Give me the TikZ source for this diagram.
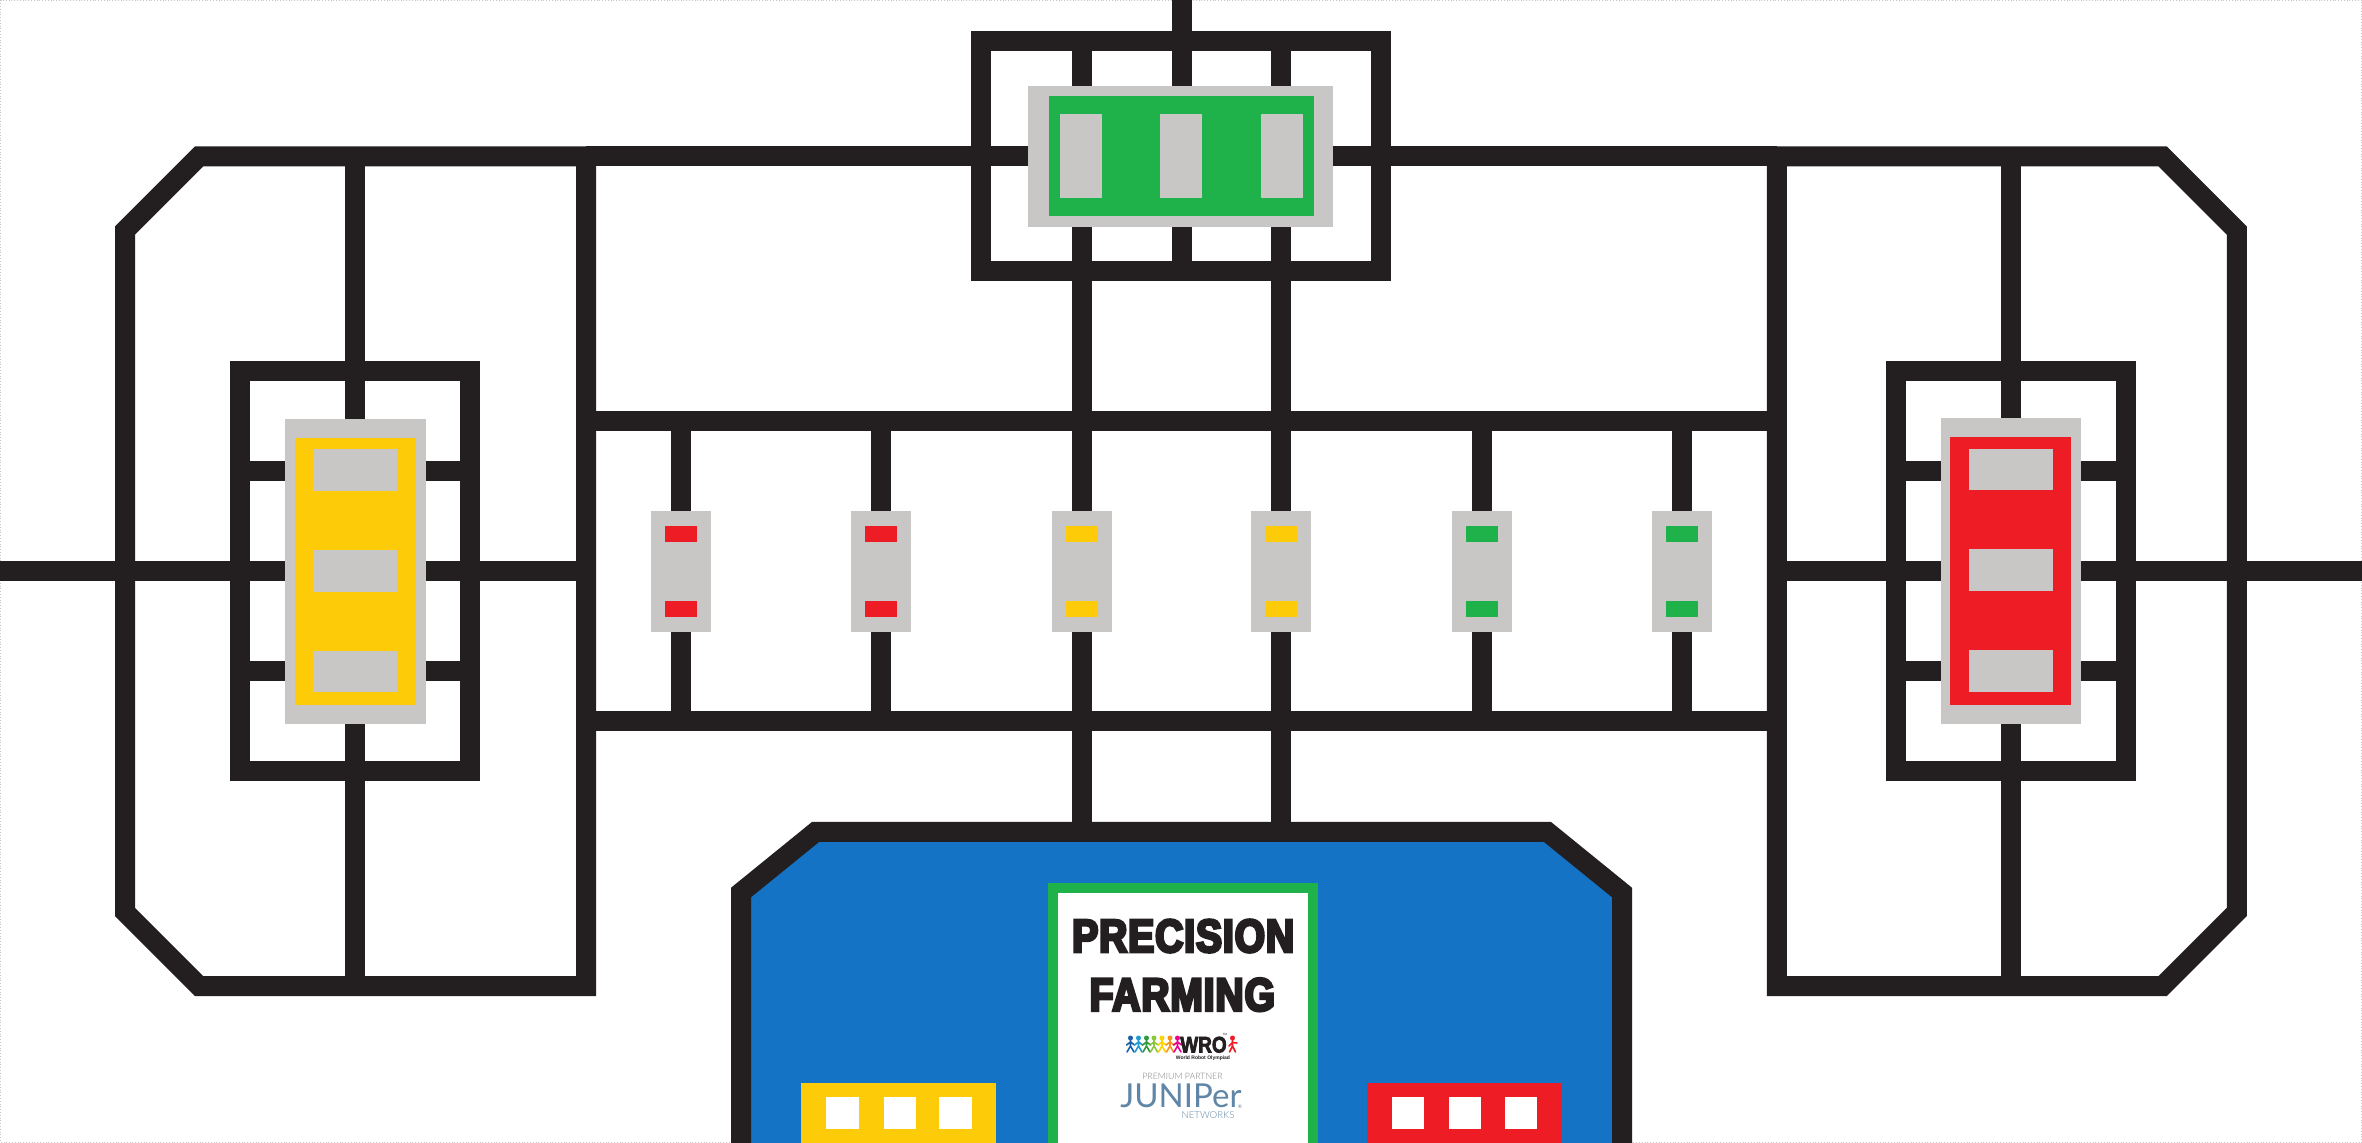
\documentclass[tikz,border=0pt]{standalone}
\usepackage{fontspec}
\setmainfont{Liberation Sans}
\newfontfamily\titlefont[FakeBold=6, FakeStretch=0.84, LetterSpace=2]{Liberation Sans Bold}
\newfontfamily\wrofont[FakeBold=3, FakeStretch=0.84]{Liberation Sans Bold}
\newfontfamily\logofont{Lato Light}
\newfontfamily\juniperfont{Lato}
\definecolor{linecol}{HTML}{231F20}
\definecolor{matgrey}{HTML}{C8C7C5}
\definecolor{matgreen}{HTML}{1FB14A}
\definecolor{matyellow}{HTML}{FDCB08}
\definecolor{matred}{HTML}{EE1C25}
\definecolor{matblue}{HTML}{1473C4}
\definecolor{junicol}{HTML}{5F86A6}
\definecolor{pblue}{HTML}{1B5FA8}
\definecolor{psky}{HTML}{1E9AD6}
\definecolor{pgreen}{HTML}{2E9A3C}
\definecolor{plime}{HTML}{8DC63F}
\definecolor{pyellow}{HTML}{FFD400}
\definecolor{porange}{HTML}{F7941D}
\definecolor{pmagenta}{HTML}{EC008C}
\tikzset{
    track/.style={draw=linecol, line width=10pt, line join=miter},
    greybox/.style={fill=matgrey},
    people/.style={line width=.8pt, line cap=round},
    titletext/.style={inner sep=0pt, anchor=base, text=linecol, font=\titlefont\fontsize{23.2}{24}\selectfont},
    logotext/.style={inner sep=0pt, anchor=base, text=junicol}
}
\begin{document}
\begin{tikzpicture}[x=.5pt, y=-.5pt]
    \useasboundingbox (0,0) rectangle (2362,1143);
    % base
    \fill[white] (0,0) rectangle (2362,1143);
    \draw[matgrey, line width=.4pt, densely dotted] (.5,.5) rectangle (2361.5,1142.5);
    % start area
    \fill[matblue] (741,1143) -- (741,892.5) -- (815.5,832) -- (1547.5,832) -- (1622,892.5) -- (1622,1143) -- cycle;
    \draw[track] (741,1143) -- (741,892.5) -- (815.5,832) -- (1547.5,832) -- (1622,892.5) -- (1622,1143);
    % outer lines
    \draw[track] (586,156.5) -- (199,156.5) -- (125,230.5) -- (125,912) -- (199,986) -- (586,986) -- cycle;
    \draw[track] (1776.8,156.5) -- (2162.8,156.5) -- (2236.8,230.5) -- (2236.8,912) -- (2162.8,986) -- (1776.8,986) -- cycle;
    \draw[track] (586,156.5) -- (1776.8,156.5);
    \draw[track] (586,421) -- (1776.8,421);
    \draw[track] (586,721) -- (1776.8,721);
    \draw[track] (0,571.3) -- (586,571.3);
    \draw[track] (1776.8,571.3) -- (2362,571.3);
    % square frames
    \draw[track] (981,41) rectangle (1381,271);
    \draw[track] (240,371.3) rectangle (470,771.3);
    \draw[track] (1895.8,371.3) rectangle (2125.6,771.3);
    \draw[track] (1181.5,0) -- (1181.5,271);
    \foreach \x in {1082,1281} \draw[track] (\x,41) -- (\x,832);
    \foreach \x in {355,2010.5} {
        \draw[track] (\x,156.5) -- (\x,986);
    }
    \foreach \y in {471,671} {
        \draw[track] (240,\y) -- (470,\y);
        \draw[track] (1895.8,\y) -- (2125.6,\y);
    }
    \foreach \x in {680.7,881,1481.5,1681.5} \draw[track] (\x,421) -- (\x,721);
    % green bay
    \fill[greybox] (1028.3,86) rectangle (1333.3,226.7);
    \fill[matgreen] (1049,95.7) rectangle (1314,216.3);
    \foreach \x in {1060,1160,1261} \fill[greybox] (\x,113.7) rectangle ++(42,84);
    % yellow bay
    \fill[greybox] (285,418.7) rectangle (425.8,723.9);
    \fill[matyellow] (294.6,438) rectangle (415.6,704.6);
    \foreach \y in {449.3,550,650.6} \fill[greybox] (313,\y) rectangle ++(84,41.7);
    % red bay
    \fill[greybox] (1940.5,418) rectangle (2081,723.9);
    \fill[matred] (1949.8,437.3) rectangle (2070.8,704.6);
    \foreach \y in {448.7,549.3,650} \fill[greybox] (1968.6,\y) rectangle ++(84.3,41.7);
    % small boxes
    \foreach \x/\col in {680.7/matred, 881/matred, 1082/matyellow, 1281/matyellow, 1481.5/matgreen, 1681.5/matgreen} {
        \fill[greybox] (\x-30,511.3) rectangle (\x+30,631.7);
        \fill[\col] (\x-16,526.3) rectangle (\x+16,542);
        \fill[\col] (\x-16,601) rectangle (\x+16,616.7);
    }
    % base pads
    \fill[matyellow] (801,1083) rectangle (996,1143);
    \foreach \x in {826.3,883.7,939.3} \fill[white] (\x,1097) rectangle ++(32.2,32.2);
    \fill[matred] (1367,1083) rectangle (1561.7,1143);
    \foreach \x in {1391.7,1448.7,1505.3} \fill[white] (\x,1097) rectangle ++(32,32);
    % sign
    \fill[matgreen] (1048,883) rectangle (1317.7,1143);
    \fill[white] (1058,893) rectangle (1307.7,1143);
    \node[titletext] (title1) at (1183.2,952) {PRECISION};
    \node[titletext] (title2) at (1182.3,1010.7) {FARMING};
    % wro logo
    \foreach \x/\col in {1130.5/pblue, 1138.5/psky, 1146.5/pgreen, 1154/plime, 1162/pyellow, 1170/porange, 1177.5/pmagenta} {
        \fill[\col] (\x,1038) circle (2.5);
        \draw[people, \col] (\x-4,1045) -- (\x,1042) -- (\x+4,1045) (\x,1040) -- (\x,1046) -- (\x-3.5,1052) (\x,1046) -- (\x+3.5,1052);
    }
    \fill[matred] (1232.5,1038) circle (2.5);
    \draw[people, matred] (1232.5,1040) -- (1232.5,1046) -- (1229.5,1052) (1232.5,1046) -- (1235.5,1052) (1232.5,1042.5) -- (1237,1043) (1232.5,1042.5) -- (1229,1046);
    \node[inner sep=0pt, anchor=base, text=linecol, font=\wrofont\fontsize{11.3}{12}\selectfont] (wro) at (1203.5,1052.5) {WRO};
    \node[inner sep=0pt, anchor=base, text=linecol, font=\bfseries\fontsize{2.5}{3}\selectfont] (wrosub) at (1203,1059.5) {World Robot Olympiad};
    \node[inner sep=0pt, text=linecol, font=\fontsize{1.5}{2}\selectfont] (wrotm) at (1225,1034) {TM};
    % juniper logo
    \node[logotext, text=gray, font=\logofont\fontsize{4.4}{5}\selectfont] (partner) at (1182.5,1079.5) {PREMIUM PARTNER};
    \node[logotext, font=\juniperfont\fontsize{16.5}{18}\selectfont] (juniper) at (1181,1107) {JUNIPer};
    \node[logotext, font=\juniperfont\fontsize{2.5}{3}\selectfont] (junireg) at (1240,1108) {®};
    \node[logotext, font=\logofont\fontsize{4.8}{6}\selectfont] (networks) at (1208,1118) {NETWORKS};
\end{tikzpicture}
\end{document}
